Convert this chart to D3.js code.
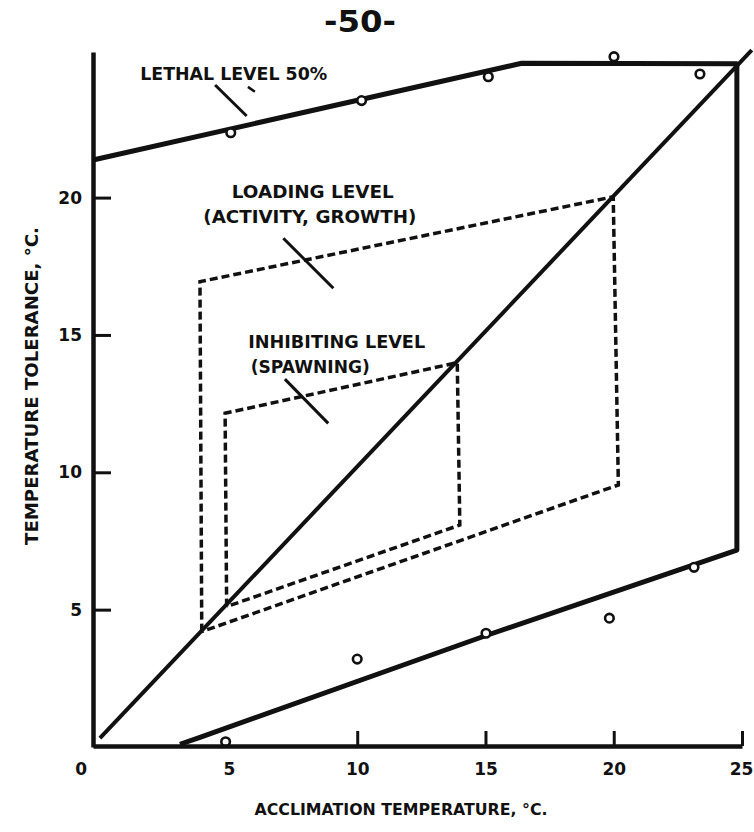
<!DOCTYPE html>
<html><head><meta charset="utf-8">
<script src="https://cdn.jsdelivr.net/npm/d3@7"></script>
<style>
body{margin:0;background:#fff}
svg{display:block}
text{font-family:"DejaVu Sans",sans-serif;font-weight:bold;fill:#111}
</style>
</head><body>
<script>
// ---------- data ----------
const pageNumber = "-50-";
const xTicks = [0, 5, 10, 15, 20, 25];
const yTicks = [5, 10, 15, 20];
const xTitle = "ACCLIMATION TEMPERATURE, °C.";
const yTitle = "TEMPERATURE TOLERANCE, °C.";
// Lethal level 50% (upper line, right edge, lower line)
const lethal = [[-0.3, 21.37], [16.41, 24.89], [24.8, 24.87], [24.8, 7.17], [15, 4.05], [3.87, 0.35], [3.09, 0.1]];
const diagonal = [[-0.03, 0.32], [25.38, 25.37]];
const loading = [[3.94, 4.2], [3.87, 16.94], [19.98, 20.03], [20.18, 9.54], [3.94, 4.2]];
const inhibiting = [[4.91, 5.11], [4.85, 12.15], [13.9, 13.99], [14.0, 8.08], [4.91, 5.11]];
const upperObs = [[5.07, 22.36], [10.17, 23.53], [15.11, 24.4], [20.01, 25.13], [23.36, 24.5]];
const lowerObs = [[4.87, 0.19], [10.0, 3.2], [15.02, 4.14], [19.83, 4.69], [23.13, 6.54]];
const labelLethal = ["LETHAL LEVEL 50%"];
const labelLoading = ["LOADING LEVEL", "(ACTIVITY, GROWTH)"];
const labelInhibiting = ["INHIBITING LEVEL", "(SPAWNING)"];

// ---------- drawing ----------
const W = 754, H = 832;
const svg = d3.select("body").append("svg").attr("width", W).attr("height", H);
svg.append("rect").attr("width", W).attr("height", H).attr("fill", "#fff");

const x = d3.scaleLinear().domain([-0.3, 25]).range([93, 742]);
const y = d3.scaleLinear().domain([0, 25.3]).range([747, 52]);
const line = d3.line().x(d => x(d[0])).y(d => y(d[1]));

svg.append("text").attr("x", 360).attr("y", 32).attr("text-anchor", "middle")
  .attr("textLength", 72).attr("lengthAdjust", "spacingAndGlyphs")
  .style("font-weight", "bold").style("font-size", "31px").text(pageNumber);

// lines
svg.append("path").datum(lethal).attr("d", line).attr("fill", "none")
  .attr("stroke", "#111").attr("stroke-width", 5).attr("stroke-linejoin", "round");
svg.append("path").datum(diagonal).attr("d", line).attr("fill", "none")
  .attr("stroke", "#111").attr("stroke-width", 4);
[loading, inhibiting].forEach(p => {
  svg.append("path").datum(p).attr("d", line).attr("fill", "none")
    .attr("stroke", "#111").attr("stroke-width", 3.5).attr("stroke-dasharray", "8,4");
});

// observed points
svg.selectAll("circle.obs").data(upperObs.concat(lowerObs)).join("circle")
  .attr("class", "obs").attr("cx", d => x(d[0])).attr("cy", d => y(d[1])).attr("r", 4.3)
  .attr("fill", "#fff").attr("stroke", "#111").attr("stroke-width", 2.6);

// axes
const xAxis = d3.axisBottom(x).tickValues(xTicks).tickSize(-15).tickSizeOuter(0).tickPadding(0).tickFormat(d3.format("d"));
const gx = svg.append("g").attr("transform", `translate(0,${y(0) - 1})`).call(xAxis);
gx.select(".domain").attr("stroke", "#111").attr("stroke-width", 4.5);
gx.selectAll(".tick line").attr("stroke", "#111").attr("stroke-width", 3)
  .attr("opacity", d => d <= 5 ? 0 : 1);
gx.selectAll(".tick text").attr("y", 29).attr("dy", 0)
  .attr("dx", d => d === 0 ? -20 : (d === 25 ? -1 : 0))
  .style("font-size", "17px").style("font-family", "DejaVu Sans").attr("fill", "#111");

const yAxis = d3.axisLeft(y).tickValues(yTicks).tickSize(-18).tickSizeOuter(0).tickPadding(11);
const gy = svg.append("g").attr("transform", `translate(${x(-0.3)},0)`).call(yAxis);
gy.select(".domain").attr("stroke", "#111").attr("stroke-width", 4.5);
gy.selectAll(".tick line").attr("stroke", "#111").attr("stroke-width", 3);
gy.selectAll(".tick text").style("font-size", "17px").style("font-family", "DejaVu Sans").attr("fill", "#111");

// axis titles
svg.append("text").attr("x", 401).attr("y", 815).attr("text-anchor", "middle")
  .attr("textLength", 293).attr("lengthAdjust", "spacingAndGlyphs")
  .style("font-size", "16px").text(xTitle);
svg.append("text").attr("transform", "translate(38,386) rotate(-90)").attr("text-anchor", "middle")
  .attr("textLength", 318).attr("lengthAdjust", "spacingAndGlyphs")
  .style("font-size", "17px").text(yTitle);

// annotations (anchor positions in data units)
function label(str, xv, yv, len) {
  svg.append("text").attr("x", x(xv)).attr("y", y(yv))
    .attr("textLength", len).attr("lengthAdjust", "spacingAndGlyphs")
    .style("font-size", "17px").text(str);
}
function leader(a, b, w) {
  svg.append("path").datum([a, b]).attr("d", line).attr("stroke", "#111")
    .attr("stroke-width", w || 3).attr("fill", "none");
}
label(labelLethal[0], 1.54, 24.28, 187);
leader([4.46, 24.1], [5.69, 22.97]);
leader([5.74, 24.03], [6.01, 23.85], 2.5);
label(labelLoading[0], 5.11, 19.99, 162);
label(labelLoading[1], 4.0, 19.06, 213);
leader([7.12, 18.52], [9.07, 16.70]);
label(labelInhibiting[0], 5.75, 14.52, 177);
label(labelInhibiting[1], 5.85, 13.61, 119);
leader([7.18, 13.39], [8.87, 11.78]);
</script>
</body></html>
